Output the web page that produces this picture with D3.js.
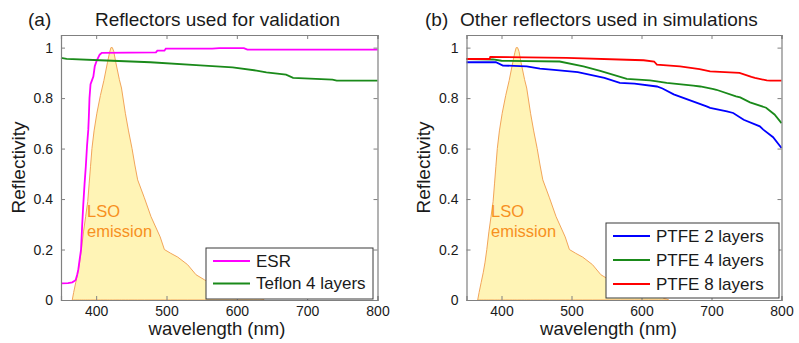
<!DOCTYPE html>
<html>
<head>
<meta charset="utf-8">
<script src="https://cdn.jsdelivr.net/npm/d3@7"></script>
<style>
  html, body { margin: 0; padding: 0; background: #fff; }
  svg { display: block; font-family: Arial, "Liberation Sans", Helvetica, sans-serif; }
</style>
</head>
<body>
<svg id="chart" width="799" height="343"></svg>
<script>
// Axis ticks
const wavelengthTicks = [400, 500, 600, 700, 800];
const reflectivityTicks = [0, 0.2, 0.4, 0.6, 0.8, 1];

// LSO scintillation emission spectrum (normalised)
const lsoWavelength = [366, 368, 371, 374, 376.5, 379, 382, 385, 388, 390, 392, 394, 397, 401, 406, 411, 416, 419, 421, 423, 425, 428, 433, 436, 441.5, 446, 451, 455, 459, 468.5, 478, 491, 497, 506, 516, 530, 542, 554, 570, 590, 610, 624, 629, 632, 636, 639];
const lsoIntensity  = [0, 0.03, 0.07, 0.11, 0.15, 0.2, 0.27, 0.33, 0.39, 0.46, 0.53, 0.6, 0.67, 0.74, 0.81, 0.87, 0.94, 0.98, 1.0, 1.0, 0.985, 0.94, 0.873, 0.84, 0.74, 0.67, 0.6, 0.535, 0.476, 0.405, 0.33, 0.25, 0.2, 0.185, 0.17, 0.14, 0.1, 0.08, 0.055, 0.035, 0.02, 0.01, 0.012, 0.006, 0.004, 0];

// (a) reflectors used for validation
const esrWavelength    = [350, 360, 366, 369, 371, 373, 374.6, 376.5, 378.5, 380, 381.7, 383.5, 385.3, 387, 388.8, 389.5, 390.5, 392, 394, 396, 398, 401, 405, 408, 485, 487, 497, 499, 565, 575, 610, 615, 800];
const esrReflectivity  = [0.066, 0.067, 0.07, 0.075, 0.08, 0.1, 0.12, 0.16, 0.2, 0.29, 0.38, 0.46, 0.53, 0.61, 0.675, 0.72, 0.8, 0.855, 0.87, 0.885, 0.926, 0.95, 0.972, 0.979, 0.981, 0.988, 0.988, 0.996, 0.996, 0.998, 0.998, 0.992, 0.992];
const teflonWavelength   = [350, 358, 405, 477, 548, 594, 628, 642, 670, 680, 736, 742, 800];
const teflonReflectivity = [0.959, 0.955, 0.95, 0.942, 0.93, 0.922, 0.909, 0.902, 0.893, 0.88, 0.873, 0.869, 0.869];

// (b) PTFE tape, different number of layers
const ptfe2Wavelength   = [350, 392, 402, 436, 455, 475, 509, 547, 569, 590, 622, 630, 646, 693, 698, 722, 731, 746, 769, 774, 788, 800];
const ptfe2Reflectivity = [0.942, 0.942, 0.929, 0.926, 0.917, 0.912, 0.903, 0.88, 0.86, 0.857, 0.846, 0.838, 0.815, 0.767, 0.761, 0.747, 0.741, 0.714, 0.688, 0.675, 0.645, 0.602];
const ptfe4Wavelength   = [350, 388, 400, 483, 517, 541, 579, 612, 622, 636, 674, 684, 703, 707, 735, 741, 755, 778, 790, 800];
const ptfe4Reflectivity = [0.955, 0.953, 0.948, 0.945, 0.926, 0.908, 0.876, 0.87, 0.866, 0.86, 0.849, 0.846, 0.836, 0.833, 0.807, 0.803, 0.783, 0.762, 0.735, 0.701];
const ptfe8Wavelength   = [350, 383, 384, 493, 579, 603, 618, 622, 655, 683, 698, 712, 740, 757, 762, 779, 784, 800];
const ptfe8Reflectivity = [0.955, 0.955, 0.963, 0.959, 0.952, 0.95, 0.945, 0.933, 0.926, 0.915, 0.906, 0.904, 0.9, 0.884, 0.88, 0.87, 0.869, 0.869];

const svg = d3.select("#chart");
const axisGrey = "#808080";
const textColor = "#1a1a1a";

function zipXY(xs, ys) { return xs.map((x, i) => [x, ys[i]]); }

function drawPanel(p) {
  const x = d3.scaleLinear().domain([350, 800]).range([p.x0, p.x1]);
  const y = d3.scaleLinear().domain([0, 1.05]).range([300, 35]);
  const g = svg.append("g");

  // emission spectrum, filled
  const emission = zipXY(lsoWavelength, lsoIntensity);
  g.append("path")
    .datum(emission)
    .attr("fill", "#fff4b6")
    .attr("stroke", "#f2a55a")
    .attr("stroke-width", 1)
    .attr("d", d3.area().x(d => x(d[0])).y0(y(0)).y1(d => y(d[1])));

  g.append("text")
    .attr("x", x(p.lsoAt)).attr("y", 217)
    .attr("fill", "#f7901e").attr("font-size", 16.5)
    .text("LSO");
  g.append("text")
    .attr("x", x(p.lsoAt)).attr("y", 237)
    .attr("fill", "#f7901e").attr("font-size", 16.5)
    .text("emission");

  // reflectivity curves
  const line = d3.line().x(d => x(d[0])).y(d => y(d[1]));
  p.series.forEach(s => {
    g.append("path")
      .datum(zipXY(s.w, s.r))
      .attr("fill", "none")
      .attr("stroke", s.color)
      .attr("stroke-width", 1.8)
      .attr("d", line);
  });

  // box axes, ticks pointing inwards on all four sides
  const axes = [
    { ax: d3.axisBottom(x).tickValues(wavelengthTicks).tickSize(-4).tickPadding(6), t: `translate(0,${y.range()[0]})`, labels: true },
    { ax: d3.axisTop(x).tickValues(wavelengthTicks).tickSize(-4), t: `translate(0,${y.range()[1]})`, labels: false },
    { ax: d3.axisLeft(y).tickValues(reflectivityTicks).tickSize(-4).tickPadding(8).tickFormat(d3.format("~g")), t: `translate(${p.x0},0)`, labels: true },
    { ax: d3.axisRight(y).tickValues(reflectivityTicks).tickSize(-4), t: `translate(${p.x1},0)`, labels: false }
  ];
  axes.forEach(a => {
    const ag = g.append("g").attr("transform", a.t).call(a.ax);
    ag.select(".domain").attr("stroke", axisGrey).attr("stroke-width", 1.2);
    ag.selectAll(".tick line").attr("stroke", axisGrey);
    ag.selectAll(".tick text")
      .attr("font-size", 14)
      .attr("font-family", "Arial, 'Liberation Sans', sans-serif")
      .attr("fill", textColor)
      .style("display", a.labels ? null : "none");
  });

  // titles and axis labels
  g.append("text").attr("x", p.tagX).attr("y", 26)
    .attr("font-size", 19).attr("fill", textColor).text(p.tag);
  g.append("text").attr("x", p.titleX).attr("y", 26)
    .attr("font-size", 19).attr("fill", textColor).text(p.title);
  g.append("text").attr("x", p.xlabelX).attr("y", 335)
    .attr("text-anchor", "middle").attr("font-size", 18.5).attr("fill", textColor)
    .text("wavelength (nm)");
  g.append("text")
    .attr("transform", `translate(${p.ylabelX},167.5) rotate(-90)`)
    .attr("text-anchor", "middle").attr("font-size", 19).attr("fill", textColor)
    .text("Reflectivity");

  // legend
  const lg = g.append("g");
  lg.append("rect")
    .attr("x", p.legend.x).attr("y", p.legend.y)
    .attr("width", p.legend.w).attr("height", p.legend.h)
    .attr("fill", "#fff").attr("stroke", "#3a3a3a").attr("stroke-width", 1);
  p.series.forEach((s, i) => {
    const ly = p.legend.firstY + i * p.legend.step;
    lg.append("line")
      .attr("x1", p.legend.x + 7).attr("x2", p.legend.x + 44)
      .attr("y1", ly).attr("y2", ly)
      .attr("stroke", s.color).attr("stroke-width", 1.8);
    lg.append("text")
      .attr("x", p.legend.x + 50).attr("y", ly).attr("dy", "0.35em")
      .attr("font-size", 17).attr("fill", textColor)
      .text(s.name);
  });
}

drawPanel({
  x0: 61, x1: 377.5,
  tag: "(a)", tagX: 28,
  title: "Reflectors used for validation", titleX: 95,
  xlabelX: 217, ylabelX: 25,
  lsoAt: 387,
  series: [
    { name: "ESR", w: esrWavelength, r: esrReflectivity, color: "#ff00ff" },
    { name: "Teflon 4 layers", w: teflonWavelength, r: teflonReflectivity, color: "#1a8a1a" }
  ],
  legend: { x: 206, y: 248, w: 167, h: 51, firstY: 261, step: 22.5 }
});

drawPanel({
  x0: 466.5, x1: 781.5,
  tag: "(b)", tagX: 425,
  title: "Other reflectors used in simulations", titleX: 460,
  xlabelX: 608.5, ylabelX: 430,
  lsoAt: 385,
  series: [
    { name: "PTFE 2 layers", w: ptfe2Wavelength, r: ptfe2Reflectivity, color: "#0000ff" },
    { name: "PTFE 4 layers", w: ptfe4Wavelength, r: ptfe4Reflectivity, color: "#1a8a1a" },
    { name: "PTFE 8 layers", w: ptfe8Wavelength, r: ptfe8Reflectivity, color: "#ff0000" }
  ],
  legend: { x: 606, y: 223, w: 173, h: 75, firstY: 236, step: 24 }
});
</script>
</body>
</html>
